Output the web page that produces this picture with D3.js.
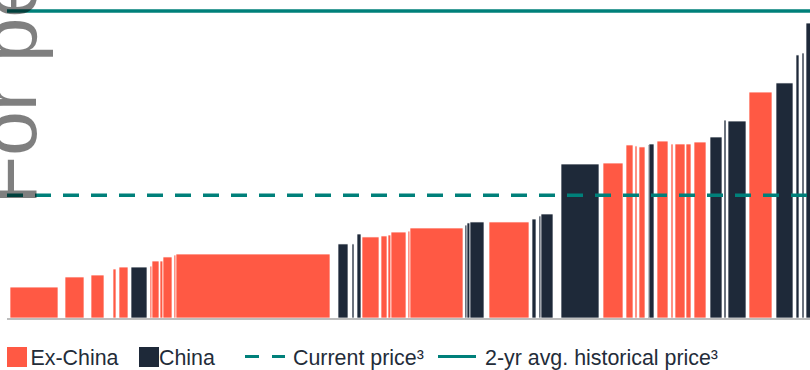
<!DOCTYPE html>
<html><head><meta charset="utf-8">
<script src="https://cdn.jsdelivr.net/npm/d3@7"></script>
<style>html,body{margin:0;padding:0;background:#fff;overflow:hidden}</style>
</head><body>
<svg id="c" width="810" height="370"></svg>
<script>
// Cost curve data (capacity in kt, cost in US$/t)
const region   = ["E","E","E","E","E","C","E","E","E","E","E","E","C","C","C","E","E","E","E","E","E","C","C","C","E","C","C","C","C","E","E","E","E","C","C","E","E","E","E","E","C","C","C","E","C","C","C","C"];
const capacity = [48,19,13,3,9,16,2,7,3,9,2,154,10,2,4,17,6,3,15,2,53,2,3,14,40,4,2,12,38,20,7,2,6,1,5,11,2,10,5,12,12,2,18,23,17,3,2,6];
const gapBefore= [0,7,7,9,3,3,3,0,1,0,2,0,8,4,3,1,2,1,0,2,0,2,0,0,5,3,3,0,8,4,3,2,2,3,0,3,3,2,1,3,4,2,2,3,4,3,3,2];
const cost     = [2520,3340,3500,3990,4150,4150,4230,4640,4640,4970,5130,5210,6030,6030,6840,6600,6680,6760,7000,7080,7330,7570,7740,7820,7820,8060,8310,8470,12540,12620,14090,14010,13930,14090,14170,14410,14170,14170,14170,14330,14740,16120,16040,18400,19140,21420,21580,24020];
const currentPrice = 10000;
const histPrice = 25000;
const legendLabels = ["Ex-China","China","Current price³","2-yr avg. historical price³"];
const watermark = "For personal use only";

const colors = {E:"#FF5944", C:"#1E2939"};
const teal = "#00807A";
const textColor = "#232C39";

const svg = d3.select("#c");

let cum = 0;
const bars = capacity.map((w,i)=>{
  cum += gapBefore[i];
  const b = {x0:cum, x1:cum+w, cost:cost[i], region:region[i]};
  cum += w;
  return b;
});
const total = cum;

const x = d3.scaleLinear().domain([0,total]).range([10,10+total]);
const y = d3.scaleLinear().domain([0,histPrice]).range([318,11]);

svg.append("g").selectAll("rect").data(bars).join("rect")
  .attr("x",d=>x(d.x0))
  .attr("width",d=>x(d.x1)-x(d.x0))
  .attr("y",d=>y(d.cost))
  .attr("height",d=>y(0)-y(d.cost))
  .attr("fill",d=>colors[d.region])
  .attr("stroke","#fff")
  .attr("stroke-width",0.7);

svg.append("line").attr("x1",7).attr("x2",810).attr("y1",319).attr("y2",319)
  .attr("stroke","#BDBDBD").attr("stroke-width",2);

svg.append("line").attr("x1",7).attr("x2",810).attr("y1",y(histPrice)).attr("y2",y(histPrice))
  .attr("stroke",teal).attr("stroke-width",3.5);
svg.append("line").attr("x1",7).attr("x2",810).attr("y1",y(currentPrice)).attr("y2",y(currentPrice))
  .attr("stroke",teal).attr("stroke-width",3.5).attr("stroke-dasharray","16,12");

svg.append("text").attr("transform","translate(36,204.5) rotate(-90)")
  .attr("font-family","'Liberation Sans', Arial, sans-serif").attr("font-size",80)
  .attr("fill","#000").attr("fill-opacity",0.5).text(watermark);

const lg = svg.append("g").attr("font-family","'Liberation Sans', Arial, sans-serif")
  .attr("font-size",21.4).attr("fill",textColor);
lg.append("rect").attr("x",7).attr("y",347).attr("width",20).attr("height",20).attr("fill",colors.E);
lg.append("text").attr("x",30.5).attr("y",365).text(legendLabels[0]);
lg.append("rect").attr("x",139).attr("y",347).attr("width",20).attr("height",20).attr("fill",colors.C);
lg.append("text").attr("x",159).attr("y",365).text(legendLabels[1]);
lg.append("line").attr("x1",245).attr("x2",285).attr("y1",356.5).attr("y2",356.5)
  .attr("stroke",teal).attr("stroke-width",3).attr("stroke-dasharray","14,13");
lg.append("text").attr("x",293).attr("y",365).text(legendLabels[2]);
lg.append("line").attr("x1",438).attr("x2",476).attr("y1",356.5).attr("y2",356.5)
  .attr("stroke",teal).attr("stroke-width",3);
lg.append("text").attr("x",485).attr("y",365).text(legendLabels[3]);
</script>
</body></html>
